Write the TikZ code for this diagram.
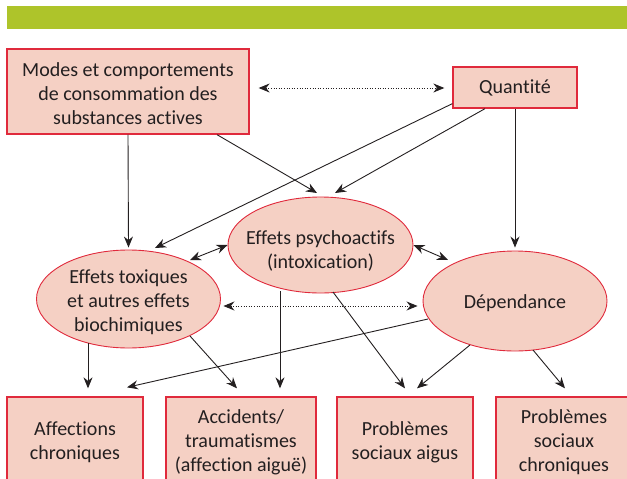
\documentclass[tikz,border=0pt]{standalone}
\usepackage{fontspec}
\setmainfont{Carlito}[Ligatures=NoCommon]
\usetikzlibrary{arrows.meta,shapes.geometric,calc}
\definecolor{boxfill}{HTML}{F5D0C4}
\definecolor{boxline}{HTML}{E02A3C}
\definecolor{txt}{HTML}{231F20}
\definecolor{topbar}{HTML}{AEC42A}
\begin{document}
\begin{tikzpicture}[x=1pt,y=-1pt,
  lbl/.style={align=center,text=txt,font=\fontsize{20}{24}\selectfont},
  box/.style={lbl,draw=boxline,fill=boxfill,line width=1.3pt,rectangle,inner sep=0pt},
  bbox/.style={box,minimum width=136pt,minimum height=90pt},
  ell/.style={lbl,draw=boxline,fill=boxfill,line width=0.9pt,ellipse,inner xsep=-45pt,inner ysep=-12pt,minimum width=184pt,minimum height=98pt},
  arr/.style={draw=txt,line width=0.9pt,-{Stealth[length=11pt,width=9pt]}},
  darr/.style={draw=txt,line width=0.9pt,{Stealth[length=11pt,width=9pt]}-{Stealth[length=11pt,width=9pt]}},
  dotarr/.style={darr,dash pattern=on 1pt off 1.6pt}]
\useasboundingbox (0,0) rectangle (627,479);
\clip (0,0) rectangle (627,479);
\fill[topbar] (7,6) rectangle (627,29);

\node[box,minimum width=242pt,minimum height=85pt] (modes) at (128,91.5) {\rule{0pt}{18pt}Modes et comportements\\de consommation des\\substances actives};
\node[box,minimum width=124pt,minimum height=41pt] (quant) at (515,87.5) {Quantité};
\node[ell,minimum width=185pt,minimum height=96pt] (psy) at (320.5,245) {\rule{0pt}{26pt}Effets psychoactifs\\(intoxication)};
\node[ell] (tox) at (128.5,299) {\rule{0pt}{20pt}Effets toxiques\\et autres effets\\biochimiques};
\node[ell,minimum height=100pt] (dep) at (515,301) {\rule{0pt}{18pt}Dépendance};

\node[bbox] (aff) at (75,442) {Affections\\chroniques};
\node[bbox,minimum width=150pt] (acc) at (241,442) {Accidents/\\traumatismes\\(affection aiguë)};
\node[bbox] (aigus) at (405,442) {Problèmes\\sociaux aigus};
\node[bbox] (chron) at (564,442) {Problèmes\\sociaux\\chroniques};

% top level
\draw[dotarr] ($(modes.east)+(9,-3.5)$) -- ($(quant.west)+(-8,0.5)$);
\draw[arr] (modes.south) -- ($(tox.north)+(0,-2)$);
\draw[arr] ($(modes.south)+(89,0)$) -- ($(psy.center)+(-3.5,-52)$);
\draw[arr] ($(quant.south)+(-30,0)$) -- ($(psy.center)+(14.5,-52)$);
\draw[arr] ($(quant.south west)+(0,-5)$) -- ($(tox.center)+(26.5,-51)$);
\draw[arr] (quant.south) -- ($(dep.north)+(0,-3)$);

% middle level
\draw[darr] (psy.west) -- ($(tox.center)+(61.5,-39)$);
\draw[darr] (psy.east) -- ($(dep.center)+(-67,-41)$);
\draw[dotarr] ($(tox.east)+(2.5,7)$) -- ($(dep.west)+(-5,5)$);

% bottom level
\draw[arr] ($(tox.center)+(-40.5,44)$) -- ($(aff.north)+(13,-8)$);
\draw[arr] ($(tox.center)+(61.5,37)$) -- ($(acc.north)+(-4,-8)$);
\draw[arr] ($(psy.center)+(-40.5,46)$) -- ($(acc.north)+(39,-8)$);
\draw[arr] ($(psy.center)+(12.5,47)$) -- ($(aigus.north)+(0,-8)$);
\draw[arr] ($(dep.center)+(-45,44)$) -- ($(aigus.north)+(12,-8)$);
\draw[arr] ($(dep.center)+(-87,18)$) -- ($(aff.north)+(52,-9)$);
\draw[arr] ($(dep.center)+(18,49)$) -- ($(chron.north)+(1,-8)$);
\end{tikzpicture}
\end{document}
